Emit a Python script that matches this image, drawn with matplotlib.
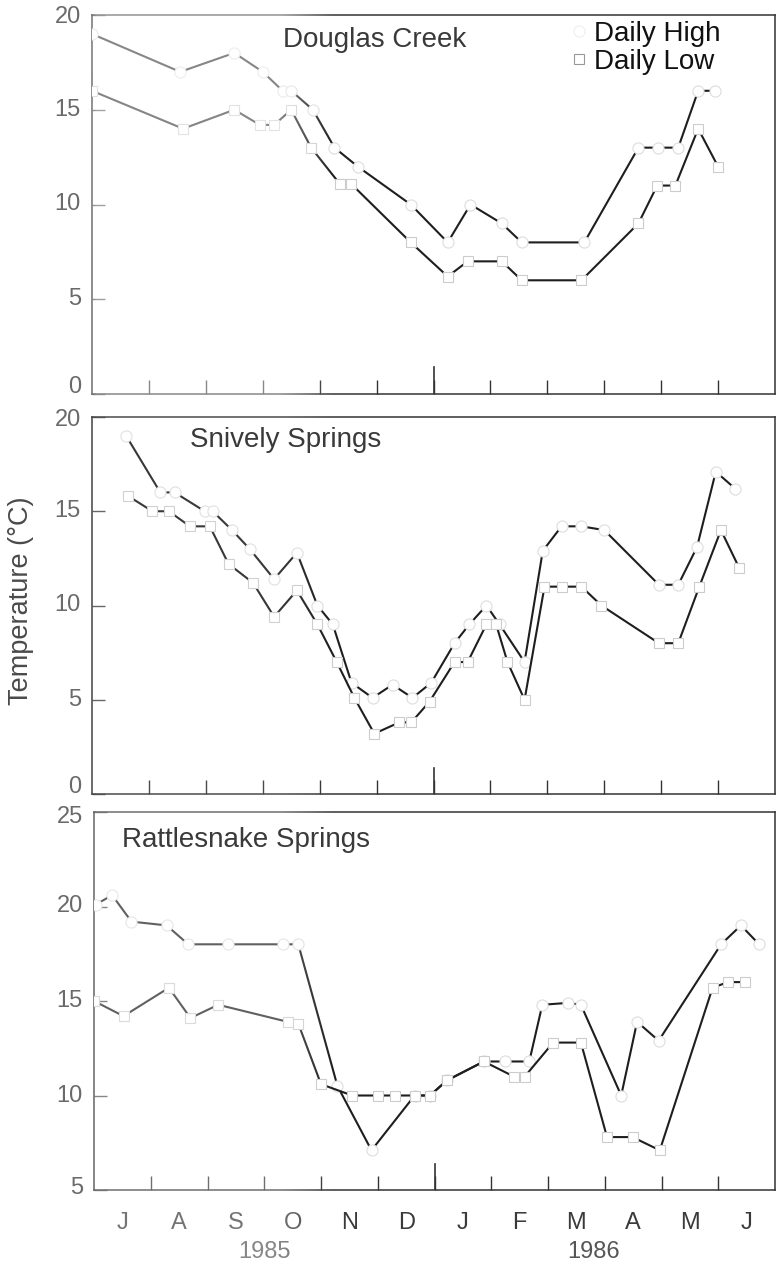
import numpy as np
import matplotlib.pyplot as plt
from matplotlib.lines import Line2D
from matplotlib.transforms import blended_transform_factory

plt.rcParams["font.family"] = ["Liberation Sans", "DejaVu Sans"]

# x positions are in months, 0 = 1 July 1985, 12 = 1 July 1986
MONTH_LABELS = ["J", "A", "S", "O", "N", "D", "J", "F", "M", "A", "M", "J"]
YEAR_LABELS = ["1985", "1986"]
YEAR_POS = [3.0, 8.8]

# Douglas Creek
DC_HIGH_M = [0.0, 1.55, 2.5, 3.0, 3.35, 3.5, 3.88, 4.26, 4.67, 5.6, 6.25, 6.65,
             7.2, 7.55, 8.65, 9.6, 9.95, 10.3, 10.65, 10.95]
DC_HIGH_T = [19, 17, 18, 17, 16, 16, 15, 13, 12, 10, 8, 10,
             9, 8, 8, 13, 13, 13, 16, 16]
DC_LOW_M = [0.0, 1.6, 2.5, 2.95, 3.2, 3.5, 3.85, 4.35, 4.55, 5.6, 6.25, 6.6,
            7.2, 7.55, 8.6, 9.6, 9.93, 10.25, 10.65, 11.0]
DC_LOW_T = [16, 14, 15, 14.2, 14.2, 15, 13, 11.1, 11.1, 8, 6.2, 7,
            7, 6, 6, 9, 11, 11, 14, 12]

# Snively Springs
SS_HIGH_M = [0.6, 1.2, 1.45, 1.98, 2.12, 2.46, 2.77, 3.2, 3.6, 3.96, 4.23, 4.56,
             4.93, 5.28, 5.63, 5.96, 6.37, 6.63, 6.93, 7.16, 7.6, 7.92, 8.25,
             8.6, 9.0, 9.96, 10.3, 10.63, 10.96, 11.3]
SS_HIGH_T = [19, 16, 16, 15, 15, 14, 13, 11.4, 12.8, 10, 9, 5.9,
             5.1, 5.8, 5.1, 5.9, 8, 9, 10, 9, 7, 12.9, 14.2,
             14.2, 14, 11.1, 11.1, 13.1, 17.1, 16.2]
SS_LOW_M = [0.64, 1.06, 1.35, 1.72, 2.07, 2.4, 2.83, 3.2, 3.6, 3.96, 4.3, 4.61,
            4.96, 5.4, 5.61, 5.93, 6.37, 6.6, 6.93, 7.1, 7.3, 7.6, 7.95, 8.25,
            8.6, 8.95, 9.96, 10.3, 10.67, 11.05, 11.37]
SS_LOW_T = [15.8, 15, 15, 14.2, 14.2, 12.2, 11.2, 9.4, 10.8, 9, 7, 5.1,
            3.2, 3.8, 3.8, 4.9, 7, 7, 9, 9, 7, 5, 11, 11,
            11, 10, 8, 8, 11, 14, 12]

# Rattlesnake Springs
RS_HIGH_M = [0.03, 0.32, 0.66, 1.28, 1.66, 2.37, 3.33, 3.6, 4.29, 4.89, 5.65,
             5.92, 6.22, 6.87, 7.25, 7.67, 7.9, 8.35, 8.58, 9.29, 9.57, 9.95,
             11.05, 11.4, 11.72]
RS_HIGH_T = [20.1, 20.6, 19.2, 19, 18, 18, 18, 18, 10.5, 7.1, 10,
             10, 10.8, 11.8, 11.8, 11.8, 14.8, 14.9, 14.8, 10, 13.9, 12.9,
             18, 19, 18]
RS_LOW_M = [0.0, 0.52, 1.32, 1.7, 2.19, 3.41, 3.6, 4.0, 4.55, 5.0, 5.3, 5.65,
            5.92, 6.22, 6.87, 7.4, 7.59, 8.09, 8.58, 9.04, 9.49, 9.97, 10.9,
            11.17, 11.47]
RS_LOW_T = [15, 14.2, 15.7, 14.1, 14.8, 13.9, 13.8, 10.6, 10, 10, 10, 10,
            10, 10.8, 11.8, 11, 11, 12.8, 12.8, 7.8, 7.8, 7.1, 15.7,
            16, 16]

PANELS = [
    ("Douglas Creek", (0, 20), DC_HIGH_M, DC_HIGH_T, DC_LOW_M, DC_LOW_T),
    ("Snively Springs", (0, 20), SS_HIGH_M, SS_HIGH_T, SS_LOW_M, SS_LOW_T),
    ("Rattlesnake Springs", (5, 25), RS_HIGH_M, RS_HIGH_T, RS_LOW_M, RS_LOW_T),
]

LINE_COLOR = "#1e1e1e"
TICK_COLOR = "#6a6a6a"

W, H = 776, 1270
fig = plt.figure(figsize=(W / 100, H / 100), dpi=100)

# axes boxes in pixels: (left, top, right, bottom)
boxes = [(92, 15, 775, 394), (92, 417, 775, 794), (94, 812, 775, 1190)]
title_pos = [(0.28, 0.934), (0.143, 0.939), (0.041, 0.926)]
# vertical nudges (points) for the lowest / highest y tick label
label_nudge = [(5.0, -1.5), (5.0, -2.0), (1.5, -3.5)]

axes = []
for i, (name, ylim, hm, ht, lm, lt) in enumerate(PANELS):
    l, t, r, b = boxes[i]
    ax = fig.add_axes([l / W, 1 - b / H, (r - l) / W, (b - t) / H])
    axes.append(ax)

    ax.plot(hm, ht, color=LINE_COLOR, lw=1.5, marker="o", ms=8,
            mfc="white", mec="#dddddd", mew=0.8, zorder=3)
    ax.plot(lm, lt, color=LINE_COLOR, lw=1.5, marker="s", ms=7.5,
            mfc="white", mec="#cccccc", mew=0.8, zorder=3)

    ax.set_xlim(0, 12)
    ax.set_ylim(*ylim)
    yticks = list(range(ylim[0], ylim[1] + 1, 5))
    ax.set_yticks(yticks)
    ax.set_yticklabels([])

    ax.set_xticks(range(1, 12))
    ax.set_xticklabels([])
    ax.tick_params(axis="x", which="major", direction="in", length=10,
                   width=1.0, color="#333333", top=False)
    ax.tick_params(axis="y", which="major", direction="in", length=9,
                   width=1.0, color="#555555", right=False)
    # year boundary tick
    ax.axvline(6, ymin=0, ymax=0.07, color="#333333", lw=1.2)

    # y tick labels, the end ones pulled inside so stacked panels don't clash
    ytrans = blended_transform_factory(ax.transAxes, ax.transData)
    for k, v in enumerate(yticks):
        dy = 0.0
        if k == 0:
            dy = label_nudge[i][0]
        elif k == len(yticks) - 1:
            dy = label_nudge[i][1]
        ax.annotate(str(v), xy=(0, v), xycoords=ytrans, xytext=(-8, dy),
                    textcoords="offset points", ha="right", va="center",
                    fontsize=17, color=TICK_COLOR, annotation_clip=False)

    for sp in ax.spines.values():
        sp.set_color("#333333")
        sp.set_linewidth(1.1)

    # site names sit above the wash layer added at the end
    fig.text(title_pos[i][0], title_pos[i][1], name, transform=ax.transAxes,
             fontsize=20, color="#3a3a3a", ha="left", va="center", zorder=12)

# month labels under the bottom panel only
bottom_ax = axes[-1]
bottom_ax.set_xticks([k + 0.5 for k in range(12)], minor=True)
bottom_ax.set_xticklabels(MONTH_LABELS, minor=True)
bottom_ax.tick_params(axis="x", which="minor", length=0, labelsize=17,
                      labelcolor="#3a3a3a", pad=16)

trans = blended_transform_factory(bottom_ax.transData, fig.transFigure)
for pos, year in zip(YEAR_POS, YEAR_LABELS):
    bottom_ax.text(pos, 1 - 1252 / H, year, transform=trans, fontsize=17,
                   color="#555555", ha="center", va="center")

fig.text(21 / W, 1 - 601 / H, "Temperature (°C)", rotation=90, fontsize=19.5,
         color="#4a4a4a", ha="center", va="center")

handles = [
    Line2D([], [], ls="none", marker="o", ms=8, mfc="white", mec="#eeeeee",
           mew=0.8),
    Line2D([], [], ls="none", marker="s", ms=7, mfc="white", mec="#999999",
           mew=0.8),
]
axes[0].legend(handles, ["Daily High", "Daily Low"], loc="upper right",
               bbox_to_anchor=(0.925, 0.992), frameon=False, fontsize=20,
               labelspacing=0.08, handlelength=0.6, handletextpad=0.25,
               borderpad=0.1, borderaxespad=0.0, labelcolor="#111111")

# the print is washed out over the left-hand months; lay a white wash there
xs = (np.arange(W) + 0.5) / W
ramp = np.clip((0.43 - xs) / 0.07, 0, 1) * np.clip((xs - 0.105) / 0.02, 0, 1)
rows = np.arange(H) + 0.5
strength = np.interp(rows, [0, 394, 417, 794, 812, 1270],
                     [0.48, 0.42, 0.12, 0.12, 0.3, 0.3])
wash = np.ones((H, W, 4))
wash[..., 3] = strength[:, None] * ramp[None, :]
overlay = fig.add_axes([0, 0, 1, 1], zorder=10)
overlay.imshow(wash, extent=(0, 1, 0, 1), aspect="auto", interpolation="bilinear")
overlay.set_axis_off()

fig.savefig("out.png", dpi=100)
